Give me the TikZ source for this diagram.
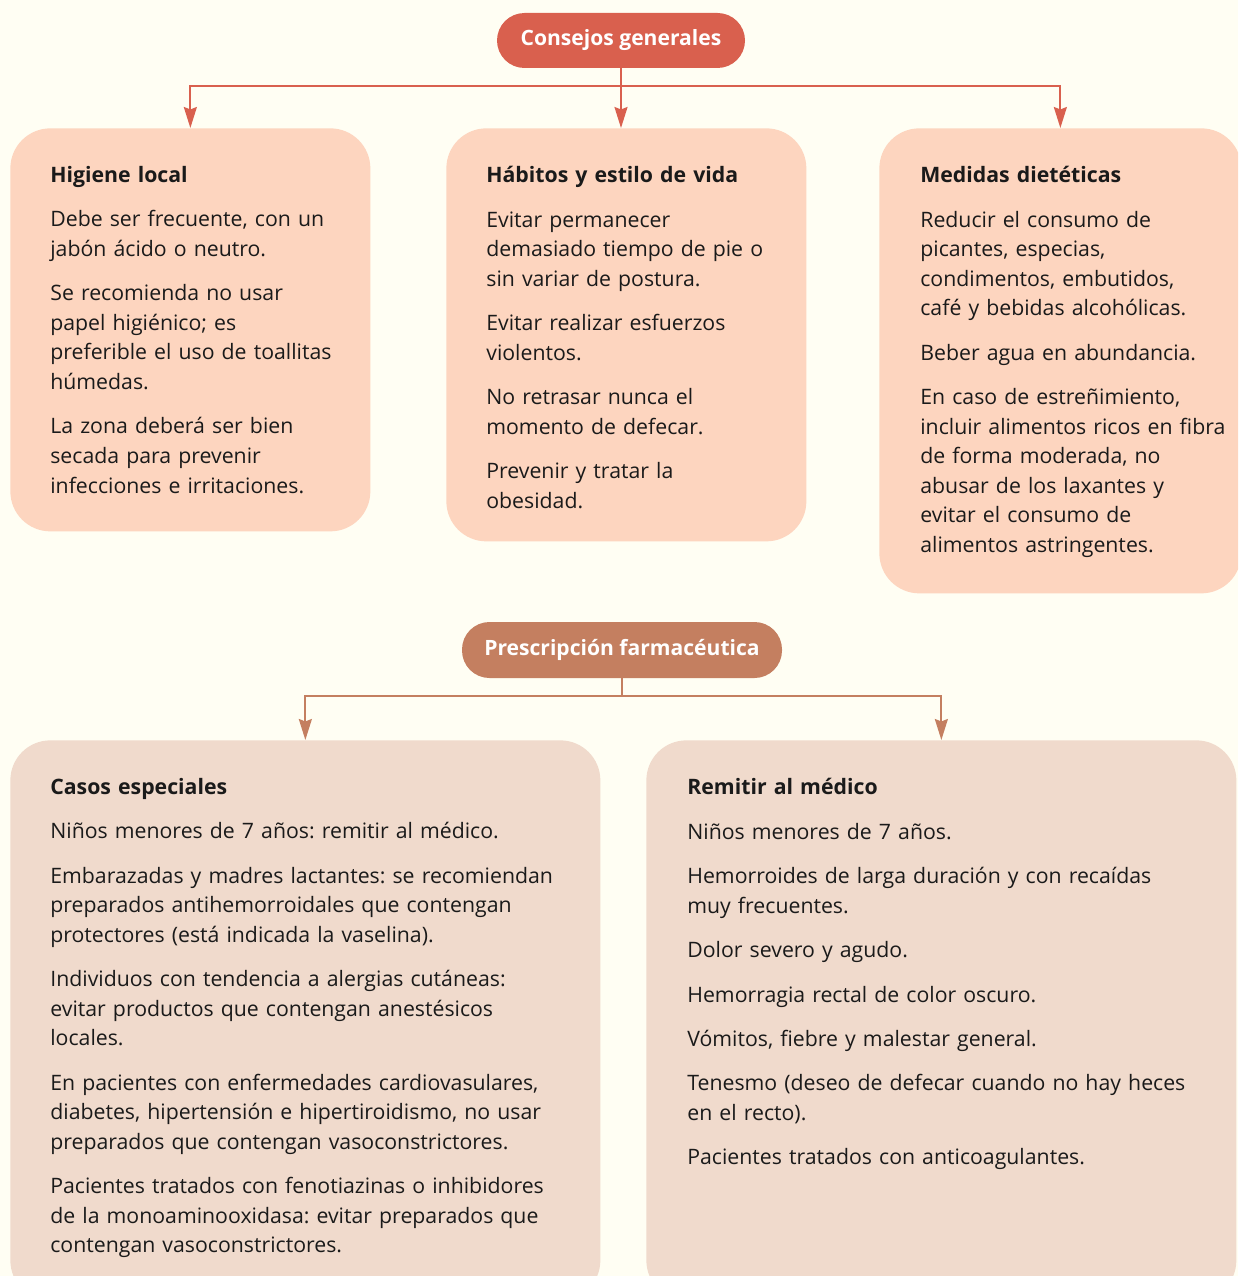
\documentclass[tikz,border=0pt]{standalone}
\usepackage{fontspec}
\setmainfont{Open Sans}
\usepackage{xcolor}
\usetikzlibrary{arrows.meta, positioning}

\definecolor{paper}{HTML}{FFFEF3}
\definecolor{redhead}{HTML}{D9604E}
\definecolor{brownhead}{HTML}{C47F60}
\definecolor{peach}{HTML}{FDD5BF}
\definecolor{sand}{HTML}{F0DACC}
\definecolor{ink}{HTML}{1A1A1A}

\tikzset{
  pill/.style={rounded corners=0.55cm, text=white, font=\bfseries\fontsize{12}{14}\selectfont, inner sep=0pt},
  card/.style={rounded corners=0.8cm, anchor=north west, inner sep=0pt},
  cardtext/.style={anchor=north west, inner sep=0pt, text=ink, text width=11cm, align=left,
    font=\fontsize{12.1}{16.8}\selectfont, execute at begin node={\frenchspacing\setlength{\parskip}{8.5pt}}},
  link/.style={line width=1.1pt},
}
\newcommand{\cardtitle}[1]{\textbf{#1}\par}

\begin{document}
\begin{tikzpicture}[>={Stealth[length=0.42cm, width=0.26cm, inset=0.05cm]}]
  \useasboundingbox (0,0) rectangle (24.76,-25.52);
  \fill[paper] (0,0) rectangle (24.76,-25.52);
  \clip (0,0) rectangle (24.76,-25.52);

  % Consejos generales
  \node[pill, fill=redhead, minimum width=4.96cm, minimum height=1.1cm] (consejos) at (12.42,-0.81) {Consejos generales};
  \node[card, fill=peach, minimum width=7.2cm, minimum height=8.06cm] (higiene) at (0.2,-2.56) {};
  \node[card, fill=peach, minimum width=7.2cm, minimum height=8.26cm] (habitos) at (8.92,-2.56) {};
  \node[card, fill=peach, minimum width=7.24cm, minimum height=9.3cm] (medidas) at (17.58,-2.56) {};

  \node[cardtext] (higienetxt) at ([shift={(0.8,-0.76)}]higiene.north west) {%
    \cardtitle{Higiene local}
    Debe ser frecuente, con un\\ jabón ácido o neutro.\par
    Se recomienda no usar\\ papel higiénico; es\\ preferible el uso de toallitas\\ húmedas.\par
    La zona deberá ser bien\\ secada para prevenir\\ infecciones e irritaciones.};
  \node[cardtext] (habitostxt) at ([shift={(0.8,-0.76)}]habitos.north west) {%
    \cardtitle{Hábitos y estilo de vida}
    Evitar permanecer\\ demasiado tiempo de pie o\\ sin variar de postura.\par
    Evitar realizar esfuerzos\\ violentos.\par
    No retrasar nunca el\\ momento de defecar.\par
    Prevenir y tratar la\\ obesidad.};
  \node[cardtext] (medidastxt) at ([shift={(0.82,-0.76)}]medidas.north west) {%
    \cardtitle{Medidas dietéticas}
    Reducir el consumo de\\ picantes, especias,\\ condimentos, embutidos,\\ café y bebidas alcohólicas.\par
    Beber agua en abundancia.\par
    En caso de estreñimiento,\\ incluir alimentos ricos en fibra\\ de forma moderada, no\\ abusar de los laxantes y\\ evitar el consumo de\\ alimentos astringentes.};

  \coordinate (busA) at (consejos.south |- 0,-1.72);
  \draw[link, redhead] (consejos.south) -- (busA);
  \draw[link, redhead, ->] (busA) -| (higiene.north);
  \draw[link, redhead, ->] (busA) -| (medidas.north);
  \draw[link, redhead, ->] (busA) -- (busA |- habitos.north);

  % Prescripcion farmaceutica
  \node[pill, fill=brownhead, minimum width=6.4cm, minimum height=1.12cm] (prescripcion) at (12.44,-13.0) {Prescripción farmacéutica};
  \node[card, fill=sand, minimum width=11.8cm, minimum height=11.2cm] (casos) at (0.2,-14.8) {};
  \node[card, fill=sand, minimum width=11.8cm, minimum height=11.2cm] (remitir) at (12.92,-14.8) {};

  \node[cardtext] (casostxt) at ([shift={(0.8,-0.76)}]casos.north west) {%
    \cardtitle{Casos especiales}
    Niños menores de 7 años: remitir al médico.\par
    Embarazadas y madres lactantes: se recomiendan\\ preparados antihemorroidales que contengan\\ protectores (está indicada la vaselina).\par
    Individuos con tendencia a alergias cutáneas:\\ evitar productos que contengan anestésicos\\ locales.\par
    En pacientes con enfermedades cardiovasulares,\\ diabetes, hipertensión e hipertiroidismo, no usar\\ preparados que contengan vasoconstrictores.\par
    Pacientes tratados con fenotiazinas o inhibidores\\ de la monoaminooxidasa: evitar preparados que\\ contengan vasoconstrictores.};
  \node[cardtext] (remitirtxt) at ([shift={(0.82,-0.76)}]remitir.north west) {%
    \cardtitle{Remitir al médico}
    Niños menores de 7 años.\par
    Hemorroides de larga duración y con recaídas\\ muy frecuentes.\par
    Dolor severo y agudo.\par
    Hemorragia rectal de color oscuro.\par
    Vómitos, fiebre y malestar general.\par
    Tenesmo (deseo de defecar cuando no hay heces\\ en el recto).\par
    Pacientes tratados con anticoagulantes.};

  \coordinate (busB) at (prescripcion.south |- 0,-13.92);
  \draw[link, brownhead] (prescripcion.south) -- (busB);
  \draw[link, brownhead, ->] (busB) -| (casos.north);
  \draw[link, brownhead, ->] (busB) -| (remitir.north);
\end{tikzpicture}
\end{document}
